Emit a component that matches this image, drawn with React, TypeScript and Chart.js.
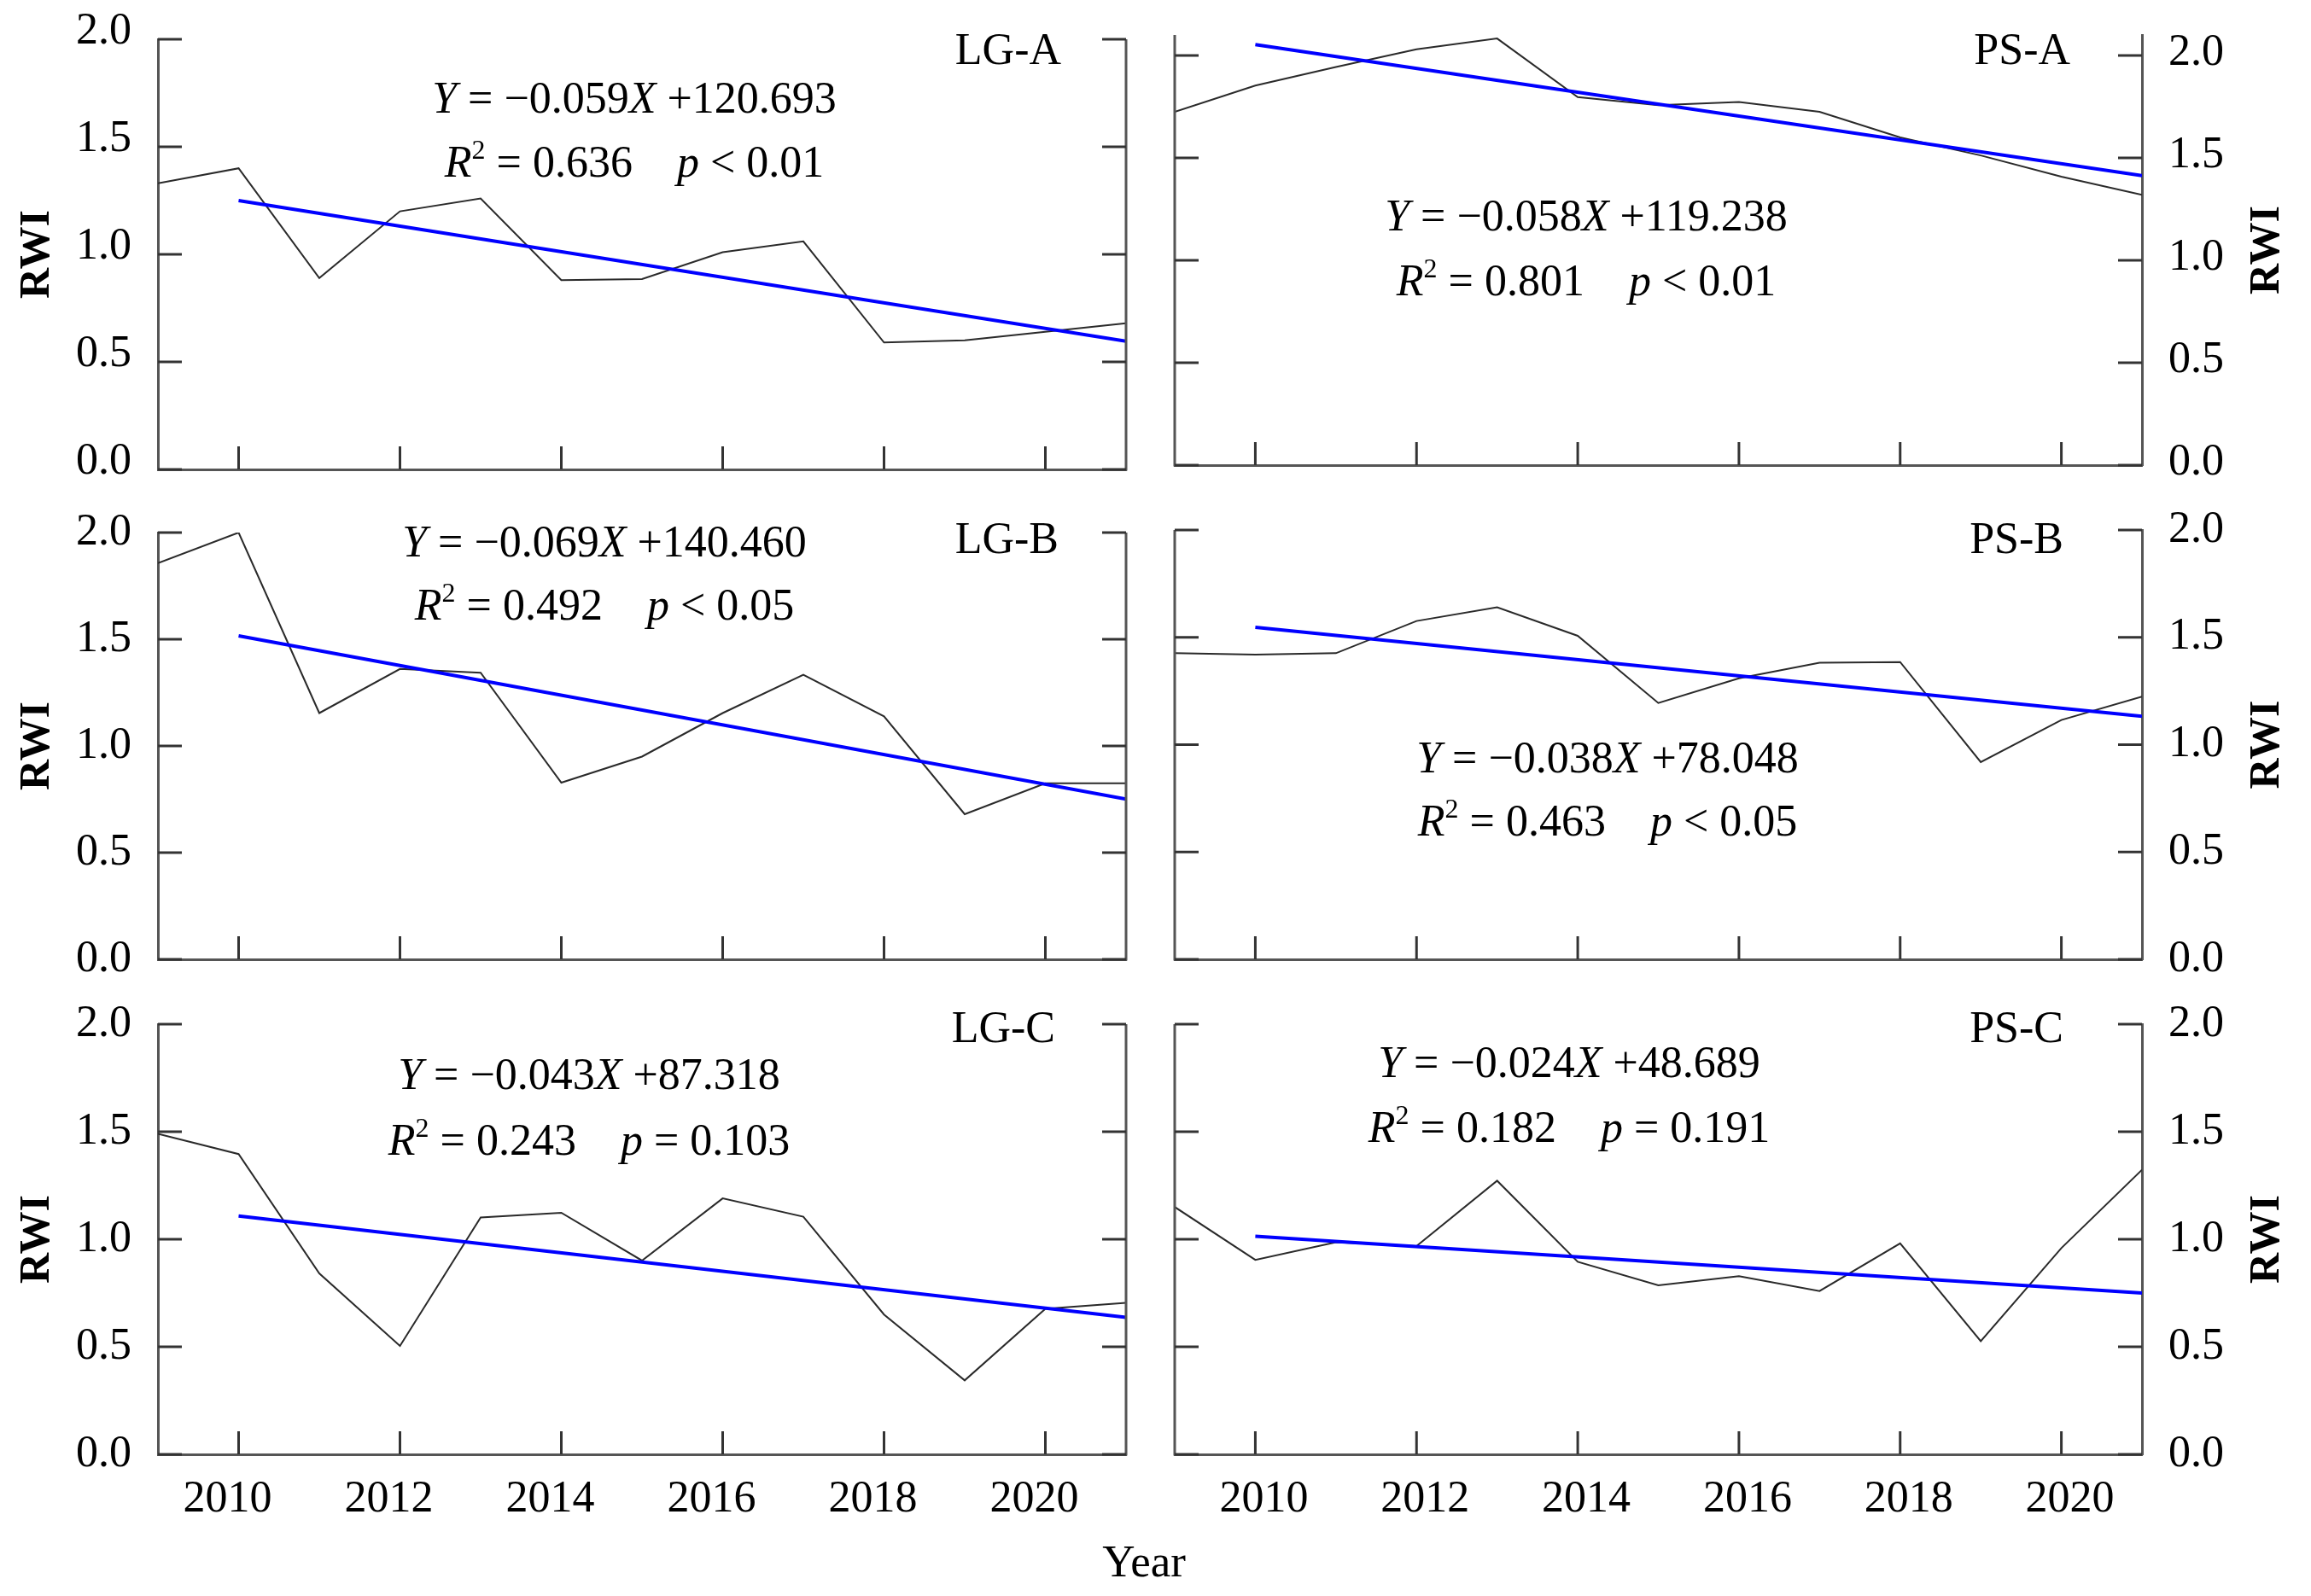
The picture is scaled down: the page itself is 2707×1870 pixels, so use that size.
import React, { useEffect, useRef } from 'react';
import { Chart, registerables } from 'chart.js';

Chart.register(...registerables);

// ---------------- DATA ----------------
const years = [2009, 2010, 2011, 2012, 2013, 2014, 2015, 2016, 2017, 2018, 2019, 2020, 2021];
const xTickYears = [2010, 2012, 2014, 2016, 2018, 2020];
const yTickValues = [0, 0.5, 1.0, 1.5, 2.0];

const rwiLgA = [1.33, 1.40, 0.89, 1.20, 1.26, 0.88, 0.885, 1.01, 1.06, 0.59, 0.60, 0.64, 0.68];
const rwiPsA = [1.725, 1.853, 1.944, 2.03, 2.083, 1.797, 1.757, 1.773, 1.725, 1.60, 1.512, 1.408, 1.32];
const rwiLgB = [1.857, 2.0, 1.154, 1.361, 1.343, 0.828, 0.95, 1.154, 1.334, 1.139, 0.68, 0.825, 0.825];
const rwiPsB = [1.426, 1.419, 1.426, 1.576, 1.64, 1.507, 1.194, 1.309, 1.382, 1.385, 0.919, 1.115, 1.224];
const rwiLgC = [1.49, 1.396, 0.841, 0.504, 1.101, 1.123, 0.901, 1.19, 1.105, 0.65, 0.344, 0.677, 0.704];
const rwiPsC = [1.15, 0.904, 0.986, 0.968, 1.272, 0.895, 0.786, 0.828, 0.759, 0.981, 0.526, 0.959, 1.323];

const trendYears = [2010, 2021];
const trendLgA = [1.25, 0.596];
const trendPsA = [2.053, 1.413];
const trendLgB = [1.516, 0.751];
const trendPsB = [1.547, 1.132];
const trendLgC = [1.108, 0.637];
const trendPsC = [1.014, 0.75];

const panelNames = ['LG-A', 'PS-A', 'LG-B', 'PS-B', 'LG-C', 'PS-C'];
const eqSlopes = ['\u22120.059', '\u22120.058', '\u22120.069', '\u22120.038', '\u22120.043', '\u22120.024'];
const eqIntercepts = ['+120.693', '+119.238', '+140.460', '+78.048', '+87.318', '+48.689'];
const eqR2 = ['0.636', '0.801', '0.492', '0.463', '0.243', '0.182'];
const eqP = ['< 0.01', '< 0.01', '< 0.05', '< 0.05', '= 0.103', '= 0.191'];
const yMaxes = [2.0, 2.1, 2.0, 2.0, 2.0, 2.0];
const axisTitle = 'RWI';
const xTitle = 'Year';

const seriesList = [rwiLgA, rwiPsA, rwiLgB, rwiPsB, rwiLgC, rwiPsC];
const trendList = [trendLgA, trendPsA, trendLgB, trendPsB, trendLgC, trendPsC];

// ---------------- LAYOUT / STYLE ----------------
const FONT = "'Liberation Serif', 'Times New Roman', Times, serif";
const TICK_SIZE = 52;
const AXIS_COLOR = '#555';
const TICK_COLOR = '#333';
const TOP_SPACE = 90;

type Plot = { l: number; t: number; r: number; b: number };
type Layout = {
  side: 'left' | 'right';
  plot: Plot;
  showX: boolean;
  yLabelOffset: number;
  xLabelOffset: number;
  label: { x: number; y: number };
  eq: { cx: number; b1: number; b2: number };
  titleX: number;
};

const LEFT_C = { x: 0, w: 1340 };
const RIGHT_C = { x: 1340, w: 1367 };

const layouts: Layout[] = [
  {
    side: 'left', plot: { l: 185, t: 46, r: 1319, b: 550 },
    showX: false, yLabelOffset: -9, xLabelOffset: -13,
    label: { x: 1243, y: 75 }, eq: { cx: 743, b1: 132, b2: 207 }, titleX: 44,
  },
  {
    side: 'right', plot: { l: 1376, t: 41, r: 2509, b: 545 },
    showX: false, yLabelOffset: -3, xLabelOffset: 10,
    label: { x: 2425, y: 75 }, eq: { cx: 1858, b1: 270, b2: 346 }, titleX: 2656,
  },
  {
    side: 'left', plot: { l: 185, t: 624, r: 1319, b: 1124 },
    showX: false, yLabelOffset: 0, xLabelOffset: -13,
    label: { x: 1240, y: 648 }, eq: { cx: 708, b1: 652, b2: 726 }, titleX: 44,
  },
  {
    side: 'right', plot: { l: 1376, t: 621, r: 2509, b: 1124 },
    showX: false, yLabelOffset: 0, xLabelOffset: 10,
    label: { x: 2417, y: 648 }, eq: { cx: 1883, b1: 905, b2: 979 }, titleX: 2656,
  },
  {
    side: 'left', plot: { l: 185, t: 1200, r: 1319, b: 1704 },
    showX: true, yLabelOffset: 0, xLabelOffset: -13,
    label: { x: 1236, y: 1221 }, eq: { cx: 690, b1: 1276, b2: 1353 }, titleX: 44,
  },
  {
    side: 'right', plot: { l: 1376, t: 1200, r: 2509, b: 1704 },
    showX: true, yLabelOffset: 0, xLabelOffset: 10,
    label: { x: 2417, y: 1221 }, eq: { cx: 1838, b1: 1262, b2: 1338 }, titleX: 2656,
  },
];

function canvasRect(L: Layout) {
  const col = L.side === 'left' ? LEFT_C : RIGHT_C;
  const bottomSpace = L.showX ? 170 : 90;
  const y = L.plot.t - TOP_SPACE;
  const h = L.plot.b - L.plot.t + TOP_SPACE + bottomSpace;
  return { x: col.x, w: col.w, y, h, bottomSpace };
}

type Run = { text?: string; italic?: boolean; sup?: boolean; gapEm?: number };

function drawRuns(ctx: CanvasRenderingContext2D, runs: Run[], cx: number, baseline: number, size: number) {
  const fontFor = (r: Run) => `${r.italic ? 'italic ' : ''}${r.sup ? Math.round(size * 0.62) : size}px ${FONT}`;
  const widths = runs.map((r) => {
    if (r.gapEm) return r.gapEm * size;
    ctx.font = fontFor(r);
    return ctx.measureText(r.text || '').width;
  });
  const total = widths.reduce((a, b) => a + b, 0);
  let x = cx - total / 2;
  ctx.textAlign = 'left';
  ctx.textBaseline = 'alphabetic';
  ctx.fillStyle = '#000';
  runs.forEach((r, i) => {
    if (!r.gapEm) {
      ctx.font = fontFor(r);
      ctx.fillText(r.text || '', x, r.sup ? baseline - size * 0.4 : baseline);
    }
    x += widths[i];
  });
}

function Panel({ idx }: { idx: number }) {
  const ref = useRef<HTMLCanvasElement | null>(null);
  const L = layouts[idx];
  const c = canvasRect(L);
  useEffect(() => {
    const canvas = ref.current;
    if (!canvas) return;
    const p = L.plot;
    const xAxisH = L.showX ? 100 : 40;
    const yAxisW = L.side === 'left' ? p.l - c.x : c.x + c.w - p.r;
    const padding = {
      left: L.side === 'left' ? 0 : p.l - c.x,
      right: L.side === 'left' ? c.x + c.w - p.r : 0,
      top: TOP_SPACE,
      bottom: c.bottomSpace - xAxisH,
    };

    const deco = {
      id: 'deco' + idx,
      afterDraw(chart: any) {
        const ctx: CanvasRenderingContext2D = chart.ctx;
        const ca = chart.chartArea;
        const xs = chart.scales.x;
        const ys = chart.scales.y;
        const line = (x1: number, y1: number, x2: number, y2: number) => {
          ctx.beginPath();
          ctx.moveTo(x1, y1);
          ctx.lineTo(x2, y2);
          ctx.stroke();
        };
        ctx.save();
        // opposite frame side
        ctx.strokeStyle = AXIS_COLOR;
        ctx.lineWidth = 3;
        const ox = L.side === 'left' ? ca.right : ca.left;
        line(ox, ca.top, ox, ca.bottom + 1.5);
        // inward tick marks
        ctx.strokeStyle = TICK_COLOR;
        ctx.lineWidth = 3;
        ys.ticks.forEach((t: any) => {
          const py = ys.getPixelForValue(t.value);
          line(ca.left, py, ca.left + 28, py);
          line(ca.right - 28, py, ca.right, py);
        });
        xs.ticks.forEach((t: any) => {
          const px = xs.getPixelForValue(t.value);
          line(px, ca.bottom, px, ca.bottom - 27);
        });
        // panel label
        ctx.fillStyle = '#000';
        ctx.font = `${TICK_SIZE}px ${FONT}`;
        ctx.textAlign = 'right';
        ctx.textBaseline = 'alphabetic';
        ctx.fillText(panelNames[idx], L.label.x - c.x, L.label.y - c.y);
        // equations
        drawRuns(ctx, [
          { text: 'Y', italic: true },
          { text: ' = ' + eqSlopes[idx] },
          { text: 'X', italic: true },
          { text: ' ' + eqIntercepts[idx] },
        ], L.eq.cx - c.x, L.eq.b1 - c.y, TICK_SIZE);
        drawRuns(ctx, [
          { text: 'R', italic: true },
          { text: '2', sup: true },
          { text: ' = ' + eqR2[idx] },
          { gapEm: 1.0 },
          { text: 'p', italic: true },
          { text: ' ' + eqP[idx] },
        ], L.eq.cx - c.x, L.eq.b2 - c.y, TICK_SIZE);
        // axis title
        ctx.save();
        ctx.translate(L.titleX - c.x, (ca.top + ca.bottom) / 2);
        ctx.rotate(-Math.PI / 2);
        ctx.font = `bold 50px ${FONT}`;
        ctx.textAlign = 'center';
        ctx.textBaseline = 'middle';
        ctx.fillText(axisTitle, 0, 0);
        ctx.restore();
        ctx.restore();
      },
    };

    const series = seriesList[idx];
    const trend = trendList[idx];
    const chart = new Chart(canvas, {
      type: 'line',
      data: {
        datasets: [
          {
            label: 'trend',
            data: trendYears.map((yr, i) => ({ x: yr, y: trend[i] })),
            borderColor: '#0000ff',
            borderWidth: 4,
            pointRadius: 0,
            tension: 0,
            fill: false,
          },
          {
            label: panelNames[idx],
            data: years.map((yr, i) => ({ x: yr, y: series[i] })),
            borderColor: '#2a2a2a',
            borderWidth: 2,
            pointRadius: 0,
            tension: 0,
            fill: false,
          },
        ],
      },
      options: {
        animation: false,
        responsive: false,
        maintainAspectRatio: false,
        layout: { padding },
        plugins: { legend: { display: false }, tooltip: { enabled: false }, title: { display: false } },
        scales: {
          x: {
            type: 'linear',
            min: years[0],
            max: years[years.length - 1],
            afterBuildTicks: (ax: any) => {
              ax.ticks = xTickYears.map((v) => ({ value: v }));
            },
            afterFit: (ax: any) => {
              ax.height = xAxisH;
            },
            grid: { display: false, drawTicks: false },
            border: { display: true, color: AXIS_COLOR, width: 3 },
            ticks: {
              display: L.showX,
              padding: 22,
              labelOffset: L.xLabelOffset,
              maxRotation: 0,
              autoSkip: false,
              color: '#000',
              font: { family: FONT, size: TICK_SIZE },
              callback: (v: any) => String(v),
            },
          },
          y: {
            type: 'linear',
            position: L.side,
            min: 0,
            max: yMaxes[idx],
            afterBuildTicks: (ax: any) => {
              ax.ticks = yTickValues.map((v) => ({ value: v }));
            },
            afterFit: (ax: any) => {
              ax.width = yAxisW;
            },
            grid: { display: false, drawTicks: false },
            border: { display: true, color: AXIS_COLOR, width: 3 },
            ticks: {
              padding: 31,
              labelOffset: L.yLabelOffset,
              autoSkip: false,
              color: '#000',
              font: { family: FONT, size: TICK_SIZE },
              callback: (v: any) => Number(v).toFixed(1),
            },
          },
        },
      } as any,
      plugins: [deco],
    });
    return () => chart.destroy();
  }, [idx]);

  return (
    <canvas
      ref={ref}
      width={c.w}
      height={c.h}
      style={{
        position: 'absolute',
        left: c.x,
        top: c.y,
        width: c.w,
        height: c.h,
      }}
    />
  );
}

export default function App() {
  return (
    <div style={{ position: 'absolute', left: 0, top: 0, width: 2707, height: 1870, background: '#fff', overflow: 'hidden' }}>
      {layouts.map((_, i) => (
        <Panel key={i} idx={i} />
      ))}
      <div
        style={{
          position: 'absolute',
          left: 1340,
          top: 1803,
          transform: 'translateX(-50%)',
          fontFamily: FONT,
          fontSize: 53,
          lineHeight: 1,
          color: '#000',
          whiteSpace: 'nowrap',
        }}
      >
        {xTitle}
      </div>
    </div>
  );
}
